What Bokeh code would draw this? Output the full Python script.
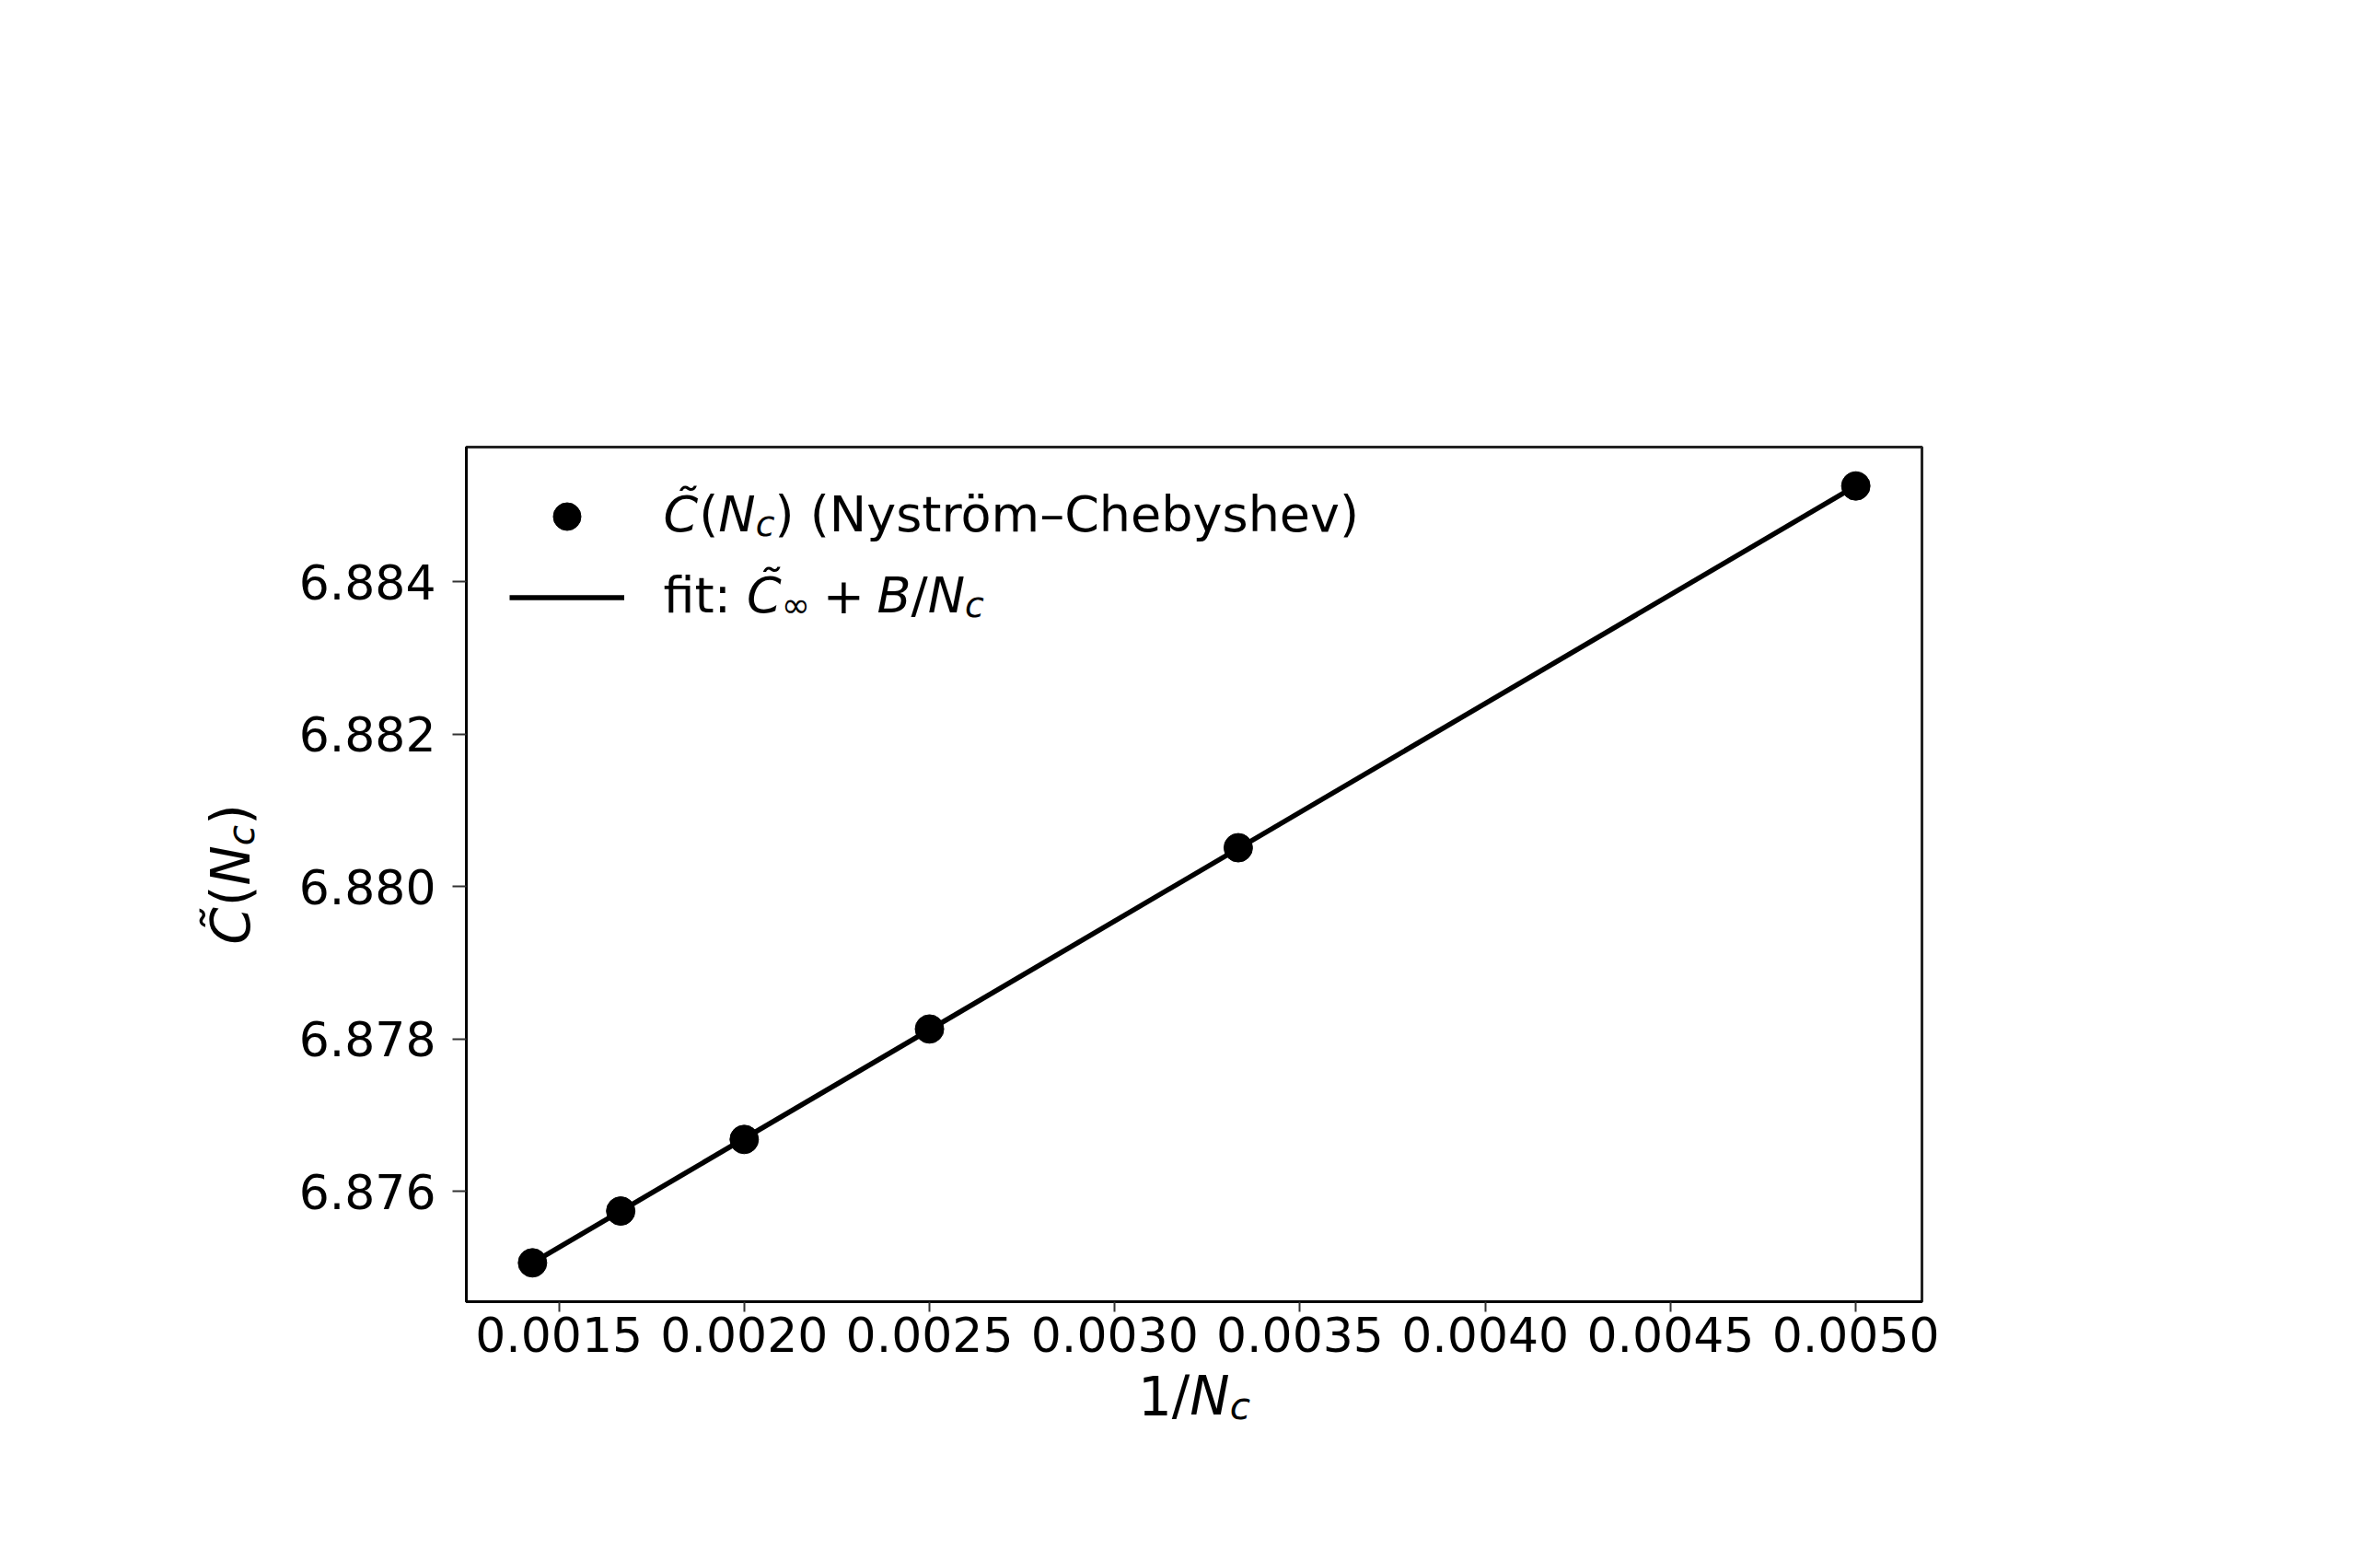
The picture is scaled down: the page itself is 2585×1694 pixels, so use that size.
import math
from bokeh.plotting import figure
from bokeh.models import Range1d, FixedTicker, PrintfTickFormatter, Label, Legend, LegendItem
from bokeh.embed import file_html
from bokeh.resources import INLINE

# ---------------- data ----------------
N_c = [700, 600, 500, 400, 300, 200]
inv_N = [1.0 / n for n in N_c]
C_tilde = [6.87506, 6.87574, 6.87668, 6.87813, 6.88051, 6.88526]
fit_C_inf = 6.87098
fit_B = 2.856
fit_x = [inv_N[0], inv_N[-1]]
fit_y = [fit_C_inf + fit_B * v for v in fit_x]

x_ticks = [0.0015, 0.0020, 0.0025, 0.0030, 0.0035, 0.0040, 0.0045, 0.0050]
y_ticks = [6.876, 6.878, 6.880, 6.882, 6.884]

series_points_label = "(Nyström–Chebyshev)"
fit_label_prefix = "fit:"

# ---------------- layout ----------------
W, H = 2569, 1678
FRAME_L, FRAME_R, FRAME_T, FRAME_B = 506, 2087, 485, 1413   # in canvas px

def padded(lo, hi, frac=0.05):
    span = hi - lo
    return lo - frac * span, hi + frac * span

x0, x1 = padded(min(inv_N), max(inv_N))
y0, y1 = padded(min(C_tilde), max(C_tilde))

p = figure(width=W, height=H, output_backend="svg", toolbar_location=None, title=None,
           x_range=Range1d(x0, x1), y_range=Range1d(y0, y1),
           min_border_left=FRAME_L, min_border_right=W - FRAME_R,
           min_border_top=FRAME_T, min_border_bottom=H - FRAME_B)
p.grid.visible = False
p.background_fill_color = "white"
p.border_fill_color = "white"
p.outline_line_color = "#222222"
p.outline_line_width = 3

FONT = "DejaVu Sans"
for ax in (p.xaxis[0], p.yaxis[0]):
    ax.axis_line_width = 3
    ax.axis_line_color = "black"
    ax.major_tick_line_color = "#333333"
    ax.major_tick_line_width = 2
    ax.major_tick_in = 0
    ax.minor_tick_line_color = None
    ax.major_label_text_font = FONT
    ax.major_label_text_font_size = "52px"
    ax.major_label_text_color = "black"

p.xaxis[0].ticker = FixedTicker(ticks=x_ticks)
p.xaxis[0].formatter = PrintfTickFormatter(format="%.4f")
p.xaxis[0].major_tick_out = 11
p.xaxis[0].major_label_standoff = 5
p.yaxis[0].ticker = FixedTicker(ticks=y_ticks)
p.yaxis[0].formatter = PrintfTickFormatter(format="%.3f")
p.yaxis[0].major_tick_out = 15
p.yaxis[0].major_label_standoff = 18

# ---------------- marks ----------------
r_fit = p.line(fit_x, fit_y, line_width=5.5, line_color="black")
r_pts = p.scatter(inv_N, C_tilde, size=31, fill_color="black", line_color="black")

legend = Legend(items=[LegendItem(label=" ", renderers=[r_pts]),
                       LegendItem(label=" ", renderers=[r_fit])],
                location=(47, 727), glyph_width=125, glyph_height=75, spacing=13,
                padding=0, margin=0, label_standoff=0, label_width=0,
                label_text_font_size="10px",
                border_line_color=None, background_fill_alpha=0)
p.add_layout(legend, "center")

# ---------------- rich text helper ----------------
ADV = {' ': 0.318, '(': 0.390, ')': 0.390, '/': 0.337, ':': 0.337, '+': 0.838,
       '1': 0.636, 'B': 0.686, 'C': 0.698, 'N': 0.748, 'c': 0.550, 'f': 0.352,
       'i': 0.278, 't': 0.392, '∞': 0.833, '\u0303': 0.0, 'y': 0.592, 's': 0.521,
       'r': 0.411, 'ö': 0.612, 'm': 0.974, '–': 0.5, 'h': 0.634, 'e': 0.615,
       'b': 0.635, 'v': 0.592}

def adv(s, size):
    return sum(ADV.get(ch, 0.6) for ch in s) * size

def text_width(pieces, size):
    return sum(sb * size + adv(t, size * (0.7 if s else 1)) + sa * size
               for t, _, s, sb, sa in pieces)

def canvas_to_data(sx, sy):
    dx = x0 + (sx - FRAME_L) / (FRAME_R - FRAME_L) * (x1 - x0)
    dy = y0 + (FRAME_B - sy) / (FRAME_B - FRAME_T) * (y1 - y0)
    return dx, dy

def rich(pieces, sx, sy, size, angle=0.0, place="center"):
    """pieces: (text, italic, subscript, space_before_em, space_after_em).
    (sx, sy): start of the baseline in canvas px (y down)."""
    pos = 0.0
    for text, italic, sub, sb, sa in pieces:
        fs = size * 0.7 if sub else size
        shift = 0.2 * size if sub else 0.0
        pos += sb * size
        if angle == 0.0:
            cx, cy = sx + pos, sy + shift
        else:
            cx, cy = sx + shift, sy - pos
        if place == "center":
            lx, ly, units = cx - FRAME_L, FRAME_B - cy, "screen"
        else:
            (lx, ly), units = canvas_to_data(cx, cy), "data"
        p.add_layout(Label(x=lx, y=ly, x_units=units, y_units=units,
                           text=text, angle=angle, text_font=FONT,
                           text_font_size=f"{fs:.1f}px",
                           text_font_style="italic" if italic else "normal",
                           text_color="black", text_align="left",
                           text_baseline="alphabetic"), place)
        pos += adv(text, fs) + sa * size

C_T = "C\u0303"
# legend texts (inside the frame)
LS = 54
rich([(C_T, True, False, 0, 0.02), ("(", False, False, 0, 0), ("N", True, False, 0, 0),
      ("c", True, True, 0, 0), (")", False, False, 0, 0),
      (series_points_label, False, False, 0.318, 0)], 720, FRAME_B - 855, LS)
rich([(fit_label_prefix, False, False, 0, 0.318), (C_T, True, False, 0, 0),
      ("∞", False, True, 0, 0), ("+", False, False, 0.25, 0.25),
      ("B", True, False, 0, 0), ("/", False, False, 0, 0), ("N", True, False, 0, 0),
      ("c", True, True, 0, 0)], 720, FRAME_B - 767, LS)

# axis labels: placed in side panels (not clipped to the frame), positioned in data units
AL = 58
xl_pieces = [("1", False, False, 0, 0), ("/", False, False, 0, 0),
             ("N", True, False, 0, 0), ("c", True, True, 0, 0)]
rich(xl_pieces, (FRAME_L + FRAME_R) / 2 - text_width(xl_pieces, AL) / 2, 1515, AL,
     place="above")

yl_pieces = [(C_T, True, False, 0, 0.02), ("(", False, False, 0, 0), ("N", True, False, 0, 0),
             ("c", True, True, 0, 0), (")", False, False, 0, 0)]
rich(yl_pieces, 250, (FRAME_T + FRAME_B) / 2 + text_width(yl_pieces, AL) / 2, AL,
     angle=math.pi / 2, place="right")

open("out.html", "w").write(file_html(p, INLINE))
